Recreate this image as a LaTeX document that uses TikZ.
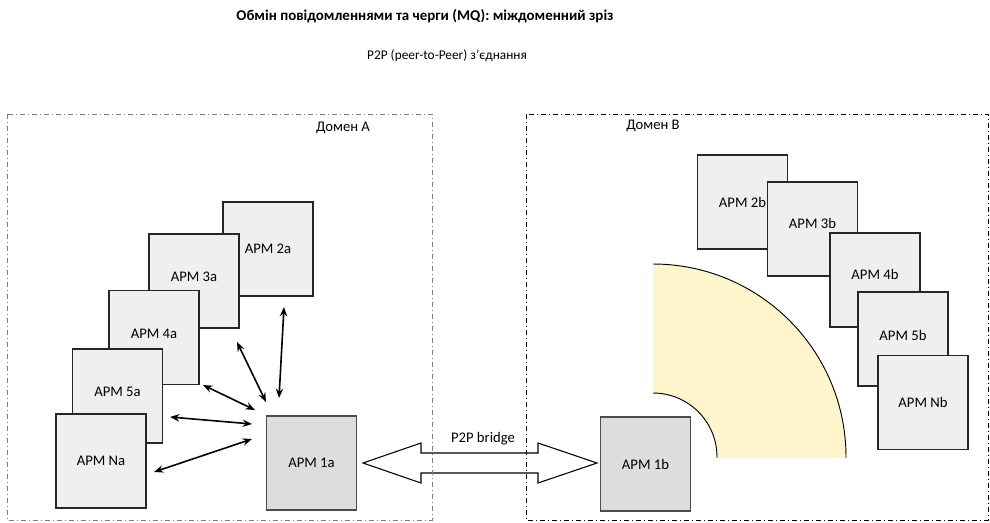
\documentclass[tikz,border=0pt]{standalone}
\usepackage{fontspec}
\setmainfont{Carlito}
\usetikzlibrary{arrows.meta,calc}
\definecolor{boxfill}{HTML}{EFEFEF}
\definecolor{mainfill}{HTML}{DDDDDD}
\definecolor{ringfill}{HTML}{FFF5CC}
\definecolor{domgray}{HTML}{7F7F7F}
\newcommand{\uplbl}[2][6pt]{\raisebox{#1}{#2}}
\tikzset{
  apm/.style={draw=black!85, line width=0.9pt, fill=boxfill, minimum width=67.5pt, minimum height=70.5pt, inner sep=0pt, font=\fontsize{11}{13}\selectfont},
  apmmain/.style={apm, fill=mainfill, draw=black!70},
  domainA/.style={draw=domgray, line width=0.6pt, dash pattern=on 4pt off 2pt on 1pt off 2pt},
  domainB/.style={draw=black, line width=0.6pt, dash pattern=on 4pt off 2pt on 1pt off 2pt},
  link/.style={line width=1.2pt, {Stealth[length=7pt,width=5.5pt]}-{Stealth[length=7pt,width=5.5pt]}},
  lbl/.style={font=\fontsize{11}{13}\selectfont, inner sep=0pt},
}
\begin{document}
\begin{tikzpicture}[x=0.75pt,y=-0.75pt]
\useasboundingbox (0,0) rectangle (990,522);
% titles
\node[font=\bfseries\fontsize{11.2}{14}\selectfont] (title) at (425,16) {Обмін повідомленнями та черги (MQ): міждоменний зріз};
\node[font=\fontsize{10}{12}\selectfont] (subtitle) at (447,56) {P2P (peer-to-Peer) з’єднання};

% ring (domain B)
\begin{scope}
\clip (653,240) rectangle (870,457);
\fill[ringfill, even odd rule] (653,457) circle[radius=144.75pt] (653,457) circle[radius=48pt];
\draw[line width=0.7pt] (653,457) circle[radius=144.75pt];
\draw[line width=0.7pt] (653,457) circle[radius=48pt];
\end{scope}

% domain A boxes
\node[apm] (a2) at (268,249) {АРМ 2a};
\node[apm] (a3) at (194,281) {\uplbl{АРМ 3a}};
\node[apm] (a4) at (154,337.5) {\uplbl{АРМ 4a}};
\node[apm] (a5) at (117.5,396) {\uplbl{АРМ 5a}};
\node[apm] (aN) at (101,461) {АРМ Na};
\node[apmmain] (a1) at (311.5,463) {АРМ 1a};

% domain B boxes
\node[apm] (b2) at (742.5,202) {АРМ 2b};
\node[apm] (b3) at (812.5,229) {\uplbl[8pt]{АРМ 3b}};
\node[apm] (b4) at (875,280) {\uplbl[8pt]{АРМ 4b}};
\node[apm] (b5) at (903,339) {\uplbl{АРМ 5b}};
\node[apm] (bN) at (923,402.5) {АРМ Nb};
\node[apmmain] (b1) at (645.5,464) {АРМ 1b};

% link end points
\coordinate (e2) at (284,307); \coordinate (f2) at (279,398);
\coordinate (e3) at (237,342); \coordinate (f3) at (266,402);
\coordinate (e4) at (203,385); \coordinate (f4) at (255,410);
\coordinate (e5) at (170,417); \coordinate (f5) at (252,424);
\coordinate (eN) at (154,472); \coordinate (fN) at (252,439);
\draw[link] (e2) -- (f2);
\draw[link] (e3) -- (f3);
\draw[link] (e4) -- (f4);
\draw[link] (e5) -- (f5);
\draw[link] (eN) -- (fN);

% P2P bridge
\draw[fill=white, line width=0.8pt] (363,463) -- (421,443) -- (421,453) -- (538,453) -- (538,443) -- (597,463) -- (538,483) -- (538,473) -- (421,473) -- (421,483) -- cycle;
\node[lbl] (bridge) at (483,439) {P2P bridge};

% domains
\draw[domainA] (7,114) rectangle (432,520);
\draw[domainB] (526,114) rectangle (988,520);
\node[lbl] (domA) at (343,128) {Домен A};
\node[lbl] (domB) at (653,126) {Домен B};
\end{tikzpicture}
\end{document}
